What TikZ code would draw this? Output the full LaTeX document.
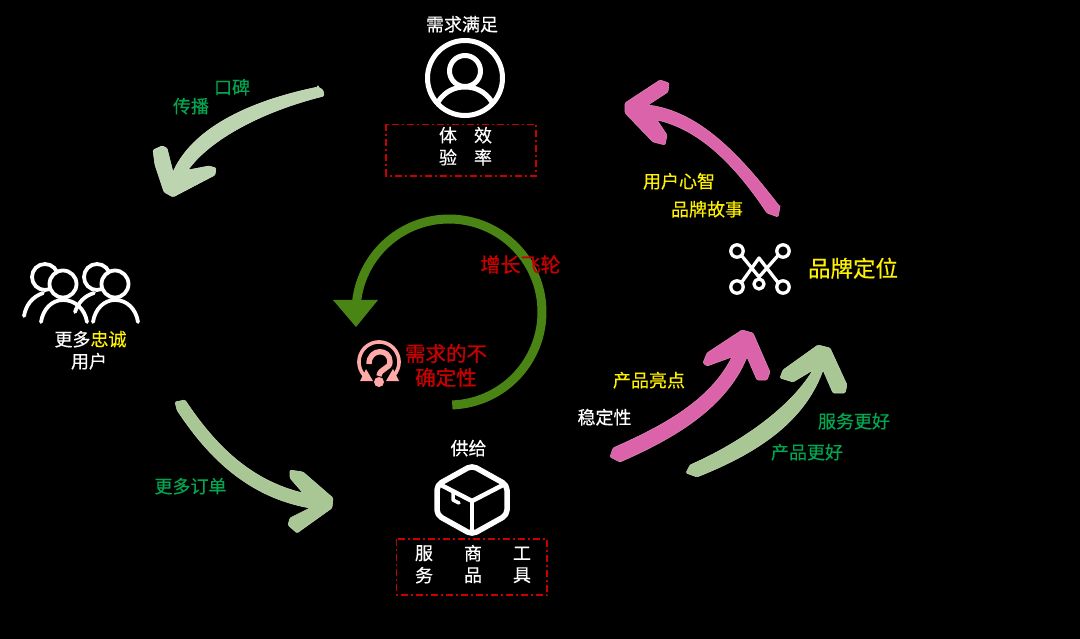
\documentclass[tikz,border=0pt]{standalone}
\usepackage{fontspec}
\setmainfont{Noto Sans CJK SC}[FakeBold=0.35]
\newfontfamily\heavycjk{Noto Sans CJK SC}[FakeBold=0.9]
\definecolor{txtgreen}{HTML}{00A650}
\definecolor{txtred}{HTML}{C80000}
\definecolor{wheel}{HTML}{4A8414}
\definecolor{sageA}{HTML}{BDD4B0}
\definecolor{sageB}{HTML}{A9C794}
\definecolor{pinkA}{HTML}{DB63A9}
\definecolor{iconpink}{HTML}{FFA9A9}
\tikzset{
  lbl/.style={inner sep=0pt,yshift=.8pt,text=white,font=\fontsize{18}{21}\selectfont},
  lblg/.style={lbl,text=txtgreen},
  lbly/.style={lbl,text=yellow},
  lblr/.style={inner sep=0pt,text=txtred,font=\heavycjk\fontsize{20.5}{24}\selectfont},
  dashbox/.style={draw=txtred,line width=1.2pt,dash pattern=on 7pt off 3pt on 2pt off 3pt},
  icon/.style={draw=white,line width=5pt,line cap=round,line join=round},
  iconthin/.style={draw=white,line width=3.8pt,line cap=round,line join=round},
  iconmid/.style={draw=white,line width=3.3pt,line cap=round,line join=round},
  brushsageA/.style={fill=sageA,draw=sageA!70!white,line width=.6pt,rounded corners=1.2pt},
  brushsageB/.style={fill=sageB,draw=sageB!75!white,line width=.6pt,rounded corners=1.2pt},
  brushpink/.style={fill=pinkA,draw=pinkA!80!white,line width=.6pt,rounded corners=1.2pt},
}
\begin{document}
\begin{tikzpicture}[x=1pt,y=-1pt]
\fill[black] (0,0) rectangle (1080,639);
\useasboundingbox (0,0) rectangle (1080,639);

% top brush arrow
\path[brushsageA] (318,87) -- (323,90) -- (324,96)
  .. controls (260,112) and (210,140) .. (188,170)
  -- (209,166) -- (216,168) -- (215,175) -- (173,197) -- (164,192) -- (155,165)
  -- (153,150) -- (162,146) -- (167,148) -- (173,172)
  .. controls (195,125) and (255,100) .. (318,87) -- cycle;
% lower-left brush arrow
\path[brushsageB] (175,402) -- (185,400)
  .. controls (215,445) and (250,480) .. (303,493)
  -- (290,478) -- (290,470) -- (303,472) -- (333,498) -- (332,508) -- (297,533) -- (288,525) -- (290,518) -- (310,508)
  .. controls (250,497) and (210,460) .. (177,410) -- cycle;
% top-right pink arrow
\path[brushpink] (780,207) -- (778,217) -- (767,213)
  .. controls (735,165) and (700,130) .. (657,120)
  -- (667,135) -- (665,145) -- (653,142) -- (625,113) -- (625,103) -- (660,80) -- (669,83) -- (668,92) -- (648,105)
  .. controls (700,112) and (740,155) .. (780,207) -- cycle;
% middle pink arrow
\path[brushpink] (610,457) -- (613,448)
  .. controls (665,425) and (710,400) .. (732,357)
  -- (707,366) -- (703,363) -- (707,353) -- (742,330) -- (753,333) -- (770,372) -- (767,380) -- (757,380) -- (747,357)
  .. controls (725,410) and (670,440) .. (620,462) -- cycle;
% right sage arrow
\path[brushsageB] (686,473) -- (690,465)
  .. controls (740,443) and (790,408) .. (813,370)
  -- (793,382) -- (780,378) -- (783,370) -- (818,345) -- (830,348) -- (847,385) -- (845,393) -- (833,393) -- (823,370)
  .. controls (803,425) and (752,455) .. (697,477) -- cycle;

% flywheel
\draw[wheel,line width=9pt] plot[domain=88:-180,samples=90] ({449+93*cos(\x)},{312+93*sin(\x)});
\fill[wheel] (333,300) -- (378,300) -- (356,327) -- cycle;

% question icon
\draw[iconpink,line width=3.6pt] plot[domain=137:403,samples=60] ({379+20*cos(\x)},{362+20*sin(\x)});
\fill[iconpink] (360,381) -- (373,381) -- (366,369) -- cycle;
\fill[iconpink] (386,381) -- (399,381) -- (393,369) -- cycle;
\draw[iconpink,line width=5.4pt,line join=round] (369,364) .. controls (369,348) and (390,348) .. (390,362) .. controls (390,369) and (380,368) .. (379,376);
\fill[iconpink] (379,382) circle[radius=5];

% user icon
\draw[icon] (465,78) circle[radius=37.5];
\draw[icon] (465,71) circle[radius=15.5];
\draw[icon] (438,102) .. controls (445,91) and (455,87) .. (465,87) .. controls (475,87) and (485,91) .. (492,102);

% group icon
\draw[iconthin] (45,277) circle[radius=13];
\draw[iconthin] (24,316) .. controls (26,305) and (32,297) .. (43,293);
\draw[iconthin,fill=black] (63,284) circle[radius=13.5];
\draw[iconthin] (97,277) circle[radius=13];
\draw[iconthin] (75,312) .. controls (78,303) and (84,296) .. (94,293);
\draw[iconthin,fill=black] (115,284) circle[radius=13.5];
\draw[iconthin] (41,322) .. controls (43,309) and (52,300) .. (63,300) .. controls (75,300) and (85,309) .. (87,322);
\draw[iconthin] (93,322) .. controls (95,309) and (104,300) .. (115,300) .. controls (127,300) and (136,309) .. (138,322);

% box icon
\draw[icon,line width=5.5pt,rounded corners=5pt] (472,465.5) -- (507,485) -- (507,515) -- (472,534.5) -- (437,515) -- (437,485) -- cycle;
\draw[icon,line width=4.5pt] (441,485) -- (472,501) -- (503,485);
\draw[icon,line width=4.5pt] (472,501) -- (472,531);
\draw[icon,line width=3.5pt] (453,491) -- (453,500) -- (459,503);

% brand icon
\draw[iconmid] (737,251) circle[radius=6.2];
\draw[iconmid] (783,251) circle[radius=6.2];
\draw[iconmid] (737,287) circle[radius=6.2];
\draw[iconmid] (783,287) circle[radius=6.2];
\draw[iconmid] (759,284) circle[radius=5];
\draw[iconmid] (741.5,282.5) -- (759,258) -- (778,282.5);
\draw[iconmid] (741.5,255.5) -- (759,277) -- (778,255.5);

% dashed boxes
\draw[dashbox] (386,124.5) rectangle (536,176);
\draw[dashbox] (396.5,539) rectangle (547,595);

% labels
\node[lbl] (need) at (462,25) {需求满足};
\node[lbl] (t1) at (448,136) {体};
\node[lbl] (t2) at (483,136) {效};
\node[lbl] (t3) at (448,158) {验};
\node[lbl] (t4) at (483,158) {率};
\node[lblg] (koubei) at (232,88) {口碑};
\node[lblg] (chuanbo) at (191,107) {传播};
\node[lbl] (more) at (72.5,340) {更多};
\node[lbly] (loyal) at (108.5,340) {忠诚};
\node[lbl] (users) at (89,362) {用户};
\node[lblg] (orders) at (190.5,487) {更多订单};
\node[lbl] (supply) at (468.5,449) {供给};
\node[lbl] (s1) at (424,554) {服};
\node[lbl] (s2) at (473,554) {商};
\node[lbl] (s3) at (522,554) {工};
\node[lbl] (s4) at (424,576) {务};
\node[lbl] (s5) at (473,576) {品};
\node[lbl] (s6) at (522,576) {具};
\node[lblr,font=\heavycjk\fontsize{20}{24}\selectfont] (fly) at (520.5,264.5) {增长飞轮};
\node[lblr] (un1) at (446,353.5) {需求的不};
\node[lblr] (un2) at (446,377.5) {确定性};
\node[lbly] (mind) at (679,182) {用户心智};
\node[lbly] (story) at (707,210) {品牌故事};
\node[lbly,font=\fontsize{22.5}{26}\selectfont] (pos) at (853,269) {品牌定位};
\node[lbly] (high) at (649,381) {产品亮点};
\node[lbl] (stab) at (604.5,418) {稳定性};
\node[lblg] (serv) at (854,422) {服务更好};
\node[lblg] (prod) at (807,453) {产品更好};
\end{tikzpicture}
\end{document}
